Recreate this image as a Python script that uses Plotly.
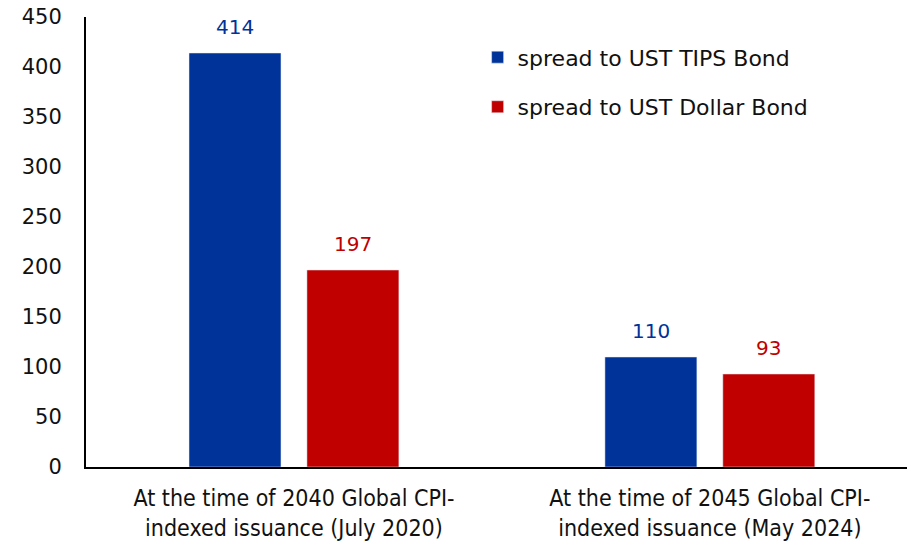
import plotly.graph_objects as go

categories = ["At the time of 2040 Global CPI-<br>indexed issuance (July 2020)",
              "At the time of 2045 Global CPI-<br>indexed issuance (May 2024)"]
tips_spread = [414, 110]
dollar_spread = [197, 93]
series_names = ["spread to UST TIPS Bond", "spread to UST Dollar Bond"]
series_colors = ["#003399", "#C00000"]

fig = go.Figure()
for i, (name, vals, col) in enumerate(zip(series_names, [tips_spread, dollar_spread], series_colors)):
    fig.add_trace(go.Bar(
        x=categories, y=vals, name=name, marker_color=col,
        legendgroup=str(i),
    ))
    # value labels above each bar
    for cat, v in zip(categories, vals):
        fig.add_annotation(
            x=cat, y=v, text=str(v), showarrow=False,
            xshift=-59 if i == 0 else 59, yanchor="bottom", yshift=12,
            font=dict(size=20, color=col),
        )

fig.update_layout(
    width=907, height=543,
    margin=dict(l=86, r=0, t=17, b=76),
    paper_bgcolor="white", plot_bgcolor="white",
    font=dict(family="DejaVu Sans, sans-serif", size=19, color="#111111"),
    barmode="group", bargap=0.433, bargroupgap=0.22,
    legend=dict(x=0.477, y=0.957, xanchor="left", yanchor="top",
                tracegroupgap=18, font=dict(size=22), bgcolor="rgba(0,0,0,0)"),
    showlegend=True,
)
fig.update_xaxes(
    range=[-0.5, 1.474], showline=True, linecolor="black", linewidth=2,
    ticks="", automargin=False, ticklabelstandoff=9,
    tickfont=dict(family="DejaVu Sans Condensed, DejaVu Sans, sans-serif", size=23),
)
fig.update_yaxes(
    range=[0, 450], dtick=50, showline=True, linecolor="black", linewidth=2,
    showgrid=False, zeroline=False, ticks="", ticklabelstandoff=18,
    automargin=False, tickfont=dict(size=21),
)

fig.write_html("out.html", config={"displayModeBar": False},
               post_script="document.body.style.margin='0';")
